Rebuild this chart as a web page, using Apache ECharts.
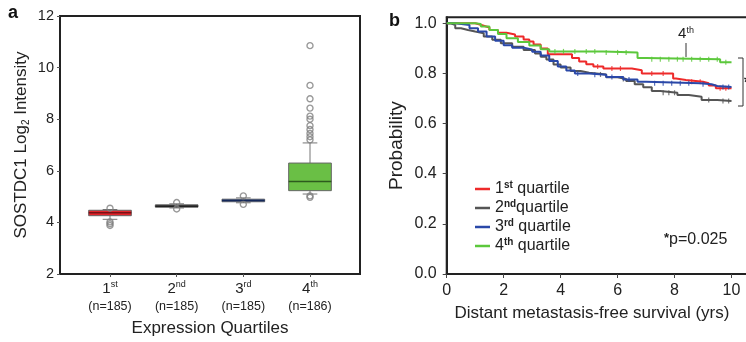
<!DOCTYPE html>
<html><head><meta charset="utf-8">
<script src="https://cdn.jsdelivr.net/npm/echarts@6/dist/echarts.min.js"></script>
<style>html,body{margin:0;padding:0;background:#fff}#c{width:746px;height:342px}</style>
</head><body><div id="c"></div>
<script>
// ---- Panel a: box plot data ----
const quartileNums = ['1', '2', '3', '4'];
const quartileSuffix = ['st', 'nd', 'rd', 'th'];
const quartileN = [185, 185, 185, 186];
const boxPositions = [1, 2, 3, 4];
// [min whisker, Q1, median, Q3, max whisker]
const boxStats = [
  [4.12, 4.26, 4.37, 4.47, 4.50],
  [4.56, 4.59, 4.63, 4.68, 4.72],
  [4.76, 4.80, 4.85, 4.90, 4.95],
  [5.10, 5.23, 5.59, 6.30, 7.08]
];
const outliers = [
  [4.55, 4.02, 3.95, 3.88],
  [4.77, 4.52],
  [5.03, 4.70],
  [10.85, 9.31, 8.79, 8.43, 8.12, 8.00, 7.75, 7.60, 7.45, 7.32, 7.20, 5.03, 4.97]
];
const leftYTicks = [2, 4, 6, 8, 10, 12];

// ---- Panel b: Kaplan-Meier curves [years, probability] ----
const kmQ1 = [[0,1],[1.0,0.997],[1.1,0.99],[1.3,0.983],[1.5,0.973],[1.8,0.962],[2.1,0.955],[2.4,0.947],[2.7,0.935],[2.9,0.927],[3.05,0.915],[3.3,0.90],[3.55,0.877],[4.4,0.862],[4.65,0.848],[4.9,0.837],[5.15,0.828],[5.5,0.82],[6.5,0.813],[6.85,0.80],[7.95,0.78],[8.05,0.774],[8.4,0.767],[9.0,0.761],[9.2,0.752],[9.45,0.741],[10,0.741]];
const kmQ2 = [[0,1],[0.15,0.993],[0.3,0.98],[0.5,0.973],[0.75,0.967],[1.0,0.96],[1.3,0.947],[1.6,0.934],[1.9,0.92],[2.3,0.907],[2.7,0.894],[3.1,0.88],[3.3,0.867],[3.5,0.856],[3.75,0.836],[4.0,0.824],[4.35,0.81],[4.7,0.803],[5.0,0.796],[5.6,0.785],[6.0,0.778],[6.3,0.77],[6.6,0.757],[6.9,0.745],[7.2,0.73],[7.5,0.723],[8.1,0.714],[8.5,0.707],[8.95,0.694],[9.5,0.69],[10,0.69]];
const kmQ3 = [[0,1],[0.3,0.993],[0.8,0.98],[1.1,0.967],[1.4,0.947],[1.7,0.93],[2.0,0.913],[2.3,0.903],[2.7,0.896],[3.0,0.887],[3.3,0.872],[3.6,0.85],[3.9,0.828],[4.2,0.812],[4.5,0.80],[5.0,0.795],[5.6,0.786],[6.2,0.776],[6.7,0.767],[7.0,0.761],[8.9,0.757],[9.3,0.75],[9.5,0.746],[10,0.746]];
const kmQ4 = [[0,1],[1.0,0.997],[1.2,0.987],[1.5,0.973],[1.8,0.957],[2.1,0.94],[2.5,0.925],[2.9,0.912],[3.3,0.897],[3.6,0.888],[5.5,0.884],[6.7,0.862],[7.0,0.857],[9.6,0.845],[10,0.845]];
// censoring times (years)
const censQ1 = [5.3, 5.8, 6.1, 7.2, 7.6, 8.6, 8.9, 9.6, 9.8];
const censQ2 = [5.4, 6.2, 7.6, 7.8, 8.0, 9.2, 9.7, 9.9];
const censQ3 = [4.6, 5.2, 5.8, 6.4, 7.3, 7.6, 7.9, 8.2, 8.5, 9.0, 9.7, 9.9];
const censQ4 = [3.8, 4.1, 4.5, 4.9, 5.2, 5.6, 6.0, 6.3, 7.2, 7.5, 7.8, 8.1, 8.3, 8.6, 8.9, 9.2, 9.5, 9.8];
const kmYTicks = [0, 0.2, 0.4, 0.6, 0.8, 1.0];
const kmXTicks = [0, 2, 4, 6, 8, 10];

// ---- styles ----
const FONT = 'Liberation Sans, Arial, sans-serif';
const boxColors = ['#e3242b', '#4a4a4a', '#2b4c9e', '#6abf45'];
const medianColors = ['#7a1015', '#222222', '#14285a', '#2d5a1e'];
const kmColors = ['#ee2a2a', '#555555', '#2a48a8', '#5cc83c'];
const kmData = [kmQ1, kmQ2, kmQ3, kmQ4];
const censData = [censQ1, censQ2, censQ3, censQ4];
const kmNames = quartileNums.map((n, i) => n + quartileSuffix[i] + ' quartile');

function survAt(curve, t) {
  let p = curve[0][1];
  for (const pt of curve) { if (pt[0] <= t) p = pt[1]; else break; }
  return p;
}

const chart = echarts.init(document.getElementById('c'), null, {renderer: 'canvas'});

function renderBox(params, api) {
  const x = api.value(0);
  const mn = api.value(1), q1 = api.value(2), md = api.value(3), q3 = api.value(4), mx = api.value(5);
  const hw = 0.32, cw = 0.11;
  const i = params.dataIndex;
  const pMin = api.coord([x, mn]), pMax = api.coord([x, mx]);
  const bl = api.coord([x - hw, q1]), tr = api.coord([x + hw, q3]);
  const ml = api.coord([x - hw, md]), mr = api.coord([x + hw, md]);
  const c1 = api.coord([x - cw, mn]), c2 = api.coord([x + cw, mn]);
  const c3 = api.coord([x - cw, mx]), c4 = api.coord([x + cw, mx]);
  const ws = {stroke: '#777', lineWidth: 1};
  return {type: 'group', children: [
    {type: 'line', shape: {x1: pMin[0], y1: pMin[1], x2: pMax[0], y2: pMax[1]}, style: ws},
    {type: 'line', shape: {x1: c1[0], y1: c1[1], x2: c2[0], y2: c2[1]}, style: ws},
    {type: 'line', shape: {x1: c3[0], y1: c3[1], x2: c4[0], y2: c4[1]}, style: ws},
    {type: 'rect', shape: {x: bl[0], y: tr[1], width: tr[0] - bl[0], height: Math.max(bl[1] - tr[1], 1)},
      style: {fill: boxColors[i], stroke: '#666', lineWidth: 1}},
    {type: 'line', shape: {x1: ml[0], y1: ml[1], x2: mr[0], y2: mr[1]}, style: {stroke: medianColors[i], lineWidth: 1.5}}
  ]};
}

const outlierData = [];
outliers.forEach((arr, i) => arr.forEach(v => outlierData.push([boxPositions[i], v])));

const supRich = {
  d: {fontSize: 15, color: '#222', fontFamily: FONT, lineHeight: 18},
  s: {fontSize: 9, color: '#222', fontFamily: FONT, verticalAlign: 'top', lineHeight: 18},
  n: {fontSize: 12.5, color: '#222', fontFamily: FONT, lineHeight: 18}
};

const order = [1, 0, 2, 3];
const kmSeries = [];
order.forEach(i => {
  kmSeries.push({
    type: 'line', name: kmNames[i], xAxisIndex: 1, yAxisIndex: 1, data: kmData[i], step: 'end',
    showSymbol: false, symbol: 'none', color: kmColors[i],
    lineStyle: {color: kmColors[i], width: 2}, z: 3 + i
  });
  kmSeries.push({
    type: 'scatter', xAxisIndex: 1, yAxisIndex: 1, symbol: 'rect', symbolSize: [1.2, 5],
    data: censData[i].map(t => [t, survAt(kmData[i], t)]),
    itemStyle: {color: kmColors[i]}, z: 3 + i, silent: true
  });
});

const option = {
  animation: false,
  backgroundColor: '#fff',
  textStyle: {fontFamily: FONT},
  grid: [
    {left: 60, top: 16, width: 300, height: 258, outerBoundsMode: 'none', containLabel: false,
      show: true, borderColor: '#222', borderWidth: 2, backgroundColor: 'transparent'},
    {left: 446.7, top: 17.3, width: 313.3, height: 256.7, outerBoundsMode: 'none', containLabel: false,
      show: true, borderColor: '#222', borderWidth: 2, backgroundColor: 'transparent'}
  ],
  xAxis: [
    {gridIndex: 0, type: 'value', min: 0.25, max: 4.75,
      axisLine: {show: true, onZero: false, lineStyle: {color: '#222', width: 2}},
      axisTick: {show: true, length: 3, customValues: boxPositions, lineStyle: {color: '#555'}},
      splitLine: {show: false},
      axisLabel: {customValues: boxPositions, margin: 6, color: '#222',
        formatter: v => { const i = Math.round(v) - 1; return '{d|' + quartileNums[i] + '}{s|' + quartileSuffix[i] + '}\n{n|(n=' + quartileN[i] + ')}'; },
        rich: supRich},
      name: 'Expression Quartiles', nameLocation: 'middle', nameGap: 46,
      nameTextStyle: {fontSize: 17, color: '#222', fontFamily: FONT}
    },
    {gridIndex: 1, type: 'value', min: 0, max: 11,
      axisLine: {show: true, onZero: false, lineStyle: {color: '#222', width: 2}},
      axisTick: {show: true, length: 4, customValues: kmXTicks, lineStyle: {color: '#444'}},
      splitLine: {show: false},
      axisLabel: {customValues: kmXTicks, margin: 9, fontSize: 16, color: '#222', fontFamily: FONT}
    }
  ],
  yAxis: [
    {gridIndex: 0, type: 'value', min: 2, max: 12, interval: 2,
      axisLine: {show: true, lineStyle: {color: '#222', width: 2}},
      axisTick: {show: true, length: 3, lineStyle: {color: '#555'}},
      splitLine: {show: false},
      axisLabel: {margin: 6, fontSize: 14.5, color: '#222', fontFamily: FONT},
      name: 'SOSTDC1 Log{sub|2} Intensity', nameLocation: 'middle', nameRotate: 90, nameGap: 29,
      nameTextStyle: {fontSize: 17, color: '#222', fontFamily: FONT,
        rich: {sub: {fontSize: 10, color: '#222', fontFamily: FONT, verticalAlign: 'bottom', lineHeight: 20}}}
    },
    {gridIndex: 1, type: 'value', min: 0, max: 1.024,
      axisLine: {show: true, lineStyle: {color: '#222', width: 2}},
      axisTick: {show: true, length: 4, customValues: kmYTicks, lineStyle: {color: '#444'}},
      splitLine: {show: false},
      axisLabel: {customValues: kmYTicks, margin: 10, fontSize: 16, color: '#222', fontFamily: FONT,
        formatter: v => v.toFixed(1)},
      name: 'Probability', nameLocation: 'middle', nameRotate: 90, nameGap: 40,
      nameTextStyle: {fontSize: 19, color: '#222', fontFamily: FONT}
    }
  ],
  legend: {
    left: 470, top: 175, orient: 'vertical', itemGap: 1,
    itemWidth: 15, itemHeight: 2.5, icon: 'rect',
    data: kmNames,
    formatter: name => { const i = kmNames.indexOf(name); return quartileNums[i] + '{s|' + quartileSuffix[i] + '}' + (i === 1 ? '' : ' ') + 'quartile'; },
    textStyle: {fontSize: 16, color: '#222', fontFamily: FONT, lineHeight: 18,
      rich: {s: {fontSize: 10, fontWeight: 'bold', color: '#222', fontFamily: FONT, verticalAlign: 'top', lineHeight: 18}}}
  },
  series: [
    {type: 'custom', xAxisIndex: 0, yAxisIndex: 0, renderItem: renderBox,
      encode: {x: 0, y: [1, 2, 3, 4, 5]},
      data: boxPositions.map((p, i) => [p].concat(boxStats[i])), z: 2},
    {type: 'scatter', xAxisIndex: 0, yAxisIndex: 0, data: outlierData, symbol: 'circle', symbolSize: 6,
      itemStyle: {color: 'rgba(255,255,255,0)', borderColor: '#808080', borderWidth: 1.4}, z: 3},
    ...kmSeries
  ],
  graphic: [
    {type: 'text', left: 8, top: 4, style: {text: 'a', font: 'bold 18px ' + FONT, fill: '#111'}},
    {type: 'text', left: 389, top: 12, style: {text: 'b', font: 'bold 18px ' + FONT, fill: '#111'}},
    {type: 'text', x: 592, y: 313, style: {text: 'Distant metastasis-free survival (yrs)', font: '17px ' + FONT, fill: '#222', align: 'center', verticalAlign: 'middle'}},
    {type: 'text', x: 686, y: 34, style: {text: '4{s|th}', font: '15px ' + FONT, fill: '#222', align: 'center', verticalAlign: 'middle',
      rich: {s: {fontSize: 9, fill: '#222', verticalAlign: 'top'}}}},
    {type: 'line', shape: {x1: 686, y1: 43, x2: 686, y2: 57}, style: {stroke: '#333', lineWidth: 1}},
    {type: 'polyline', shape: {points: [[738, 58], [743, 58], [743, 106], [738, 106]]}, style: {stroke: '#333', lineWidth: 1, fill: null}},
    {type: 'text', x: 744, y: 76, style: {text: '*', font: 'bold 16px ' + FONT, fill: '#222'}},
    {type: 'text', x: 664, y: 240, style: {text: '{s|*}p=0.025', font: '16px ' + FONT, fill: '#222', verticalAlign: 'middle',
      rich: {s: {fontSize: 13, fontWeight: 'bold', fill: '#222', verticalAlign: 'top'}}}}
  ]
};
chart.setOption(option);
</script>
</body></html>
